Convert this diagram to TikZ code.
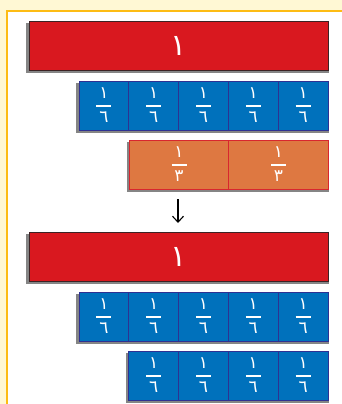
\documentclass[tikz,border=0pt]{standalone}
\usepackage{fontspec}
\TeXXeTstate=1
\newfontfamily\arabicfont[Script=Arabic]{DejaVu Sans}
\usetikzlibrary{arrows.meta,backgrounds}
\definecolor{bgyellow}{HTML}{FFF8D4}
\definecolor{framegold}{HTML}{FDBC14}
\definecolor{barred}{HTML}{D9181F}
\definecolor{barredline}{HTML}{3C2224}
\definecolor{cellblue}{HTML}{0071BC}
\definecolor{cellblueline}{HTML}{2E3192}
\definecolor{cellorange}{HTML}{DE7841}
\definecolor{cellorangeline}{HTML}{D8262E}
\definecolor{shadowgray}{HTML}{858585}
\newcommand{\arfr}[2]{$\displaystyle{\hbox to 15pt{\hss\arabicfont #1\hss}\above 1.7pt\hbox to 15pt{\hss\arabicfont #2\hss}}$}
\begin{document}
\begin{tikzpicture}[x=1pt,y=-1pt,
  cellbase/.style={inner sep=0pt, minimum height=49pt, line width=0.8pt, text=white},
  redbar/.style={cellbase, fill=barred, draw=barredline, minimum width=299pt,
    font=\fontsize{30}{30}\selectfont},
  bluecell/.style={cellbase, fill=cellblue, draw=cellblueline, minimum width=49.8pt,
    font=\fontsize{17}{17}\selectfont},
  orangecell/.style={cellbase, fill=cellorange, draw=cellorangeline, minimum width=99.5pt,
    font=\fontsize{17}{17}\selectfont},
  shadowbox/.style={fill=shadowgray},
  arr/.style={line width=1.1pt, -{Straight Barb[length=6pt,width=11pt,line width=1.1pt]}}
]
\useasboundingbox (0,0) rectangle (342,404);

% first whole
\node[redbar] (r1) at (178.5,45.5) {\arabicfont\beginR ١\endR};
% five sixths
\node[bluecell] (b11) at (103.9,105.5) {\arfr{١}{٦}};
\node[bluecell] (b12) at (153.7,105.5) {\arfr{١}{٦}};
\node[bluecell] (b13) at (203.5,105.5) {\arfr{١}{٦}};
\node[bluecell] (b14) at (253.3,105.5) {\arfr{١}{٦}};
\node[bluecell] (b15) at (303.1,105.5) {\arfr{١}{٦}};
% two thirds
\node[orangecell] (o1) at (179.0,164.5) {\arfr{١}{٣}};
\node[orangecell] (o2) at (278.5,164.5) {\arfr{١}{٣}};

\coordinate (a1) at (178,199);
\coordinate (a2) at (178,223);
\draw[arr] (a1) -- (a2);

% second whole
\node[redbar] (r2) at (178.5,256.5) {\arabicfont\beginR ١\endR};
\node[bluecell] (b21) at (103.9,316.5) {\arfr{١}{٦}};
\node[bluecell] (b22) at (153.7,316.5) {\arfr{١}{٦}};
\node[bluecell] (b23) at (203.5,316.5) {\arfr{١}{٦}};
\node[bluecell] (b24) at (253.3,316.5) {\arfr{١}{٦}};
\node[bluecell] (b25) at (303.1,316.5) {\arfr{١}{٦}};
\node[bluecell] (b32) at (153.7,375.5) {\arfr{١}{٦}};
\node[bluecell] (b33) at (203.5,375.5) {\arfr{١}{٦}};
\node[bluecell] (b34) at (253.3,375.5) {\arfr{١}{٦}};
\node[bluecell] (b35) at (303.1,375.5) {\arfr{١}{٦}};

\begin{pgfonlayer}{background}
\fill[bgyellow] (0,0) rectangle (342,404);
\fill[white] (7,11) rectangle (343,405);
\draw[framegold, line width=2.4pt] (343,11) -- (7,11) -- (7,405);
\fill[shadowbox] ([xshift=-2.2pt,yshift=-2.2pt]r1.north west) rectangle ([xshift=0.6pt,yshift=-2.2pt]r1.south east);
\fill[shadowbox] ([xshift=-2.2pt,yshift=-2.2pt]b11.north west) rectangle ([xshift=0.6pt,yshift=-2.2pt]b15.south east);
\fill[shadowbox] ([xshift=-2.2pt,yshift=-2.2pt]o1.north west) rectangle ([xshift=0.6pt,yshift=-2.2pt]o2.south east);
\fill[shadowbox] ([xshift=-2.2pt,yshift=-2.2pt]r2.north west) rectangle ([xshift=0.6pt,yshift=-2.2pt]r2.south east);
\fill[shadowbox] ([xshift=-2.2pt,yshift=-2.2pt]b21.north west) rectangle ([xshift=0.6pt,yshift=-2.2pt]b25.south east);
\fill[shadowbox] ([xshift=-2.2pt,yshift=-2.2pt]b32.north west) rectangle ([xshift=0.6pt,yshift=-2.2pt]b35.south east);
\end{pgfonlayer}
\end{tikzpicture}
\end{document}
